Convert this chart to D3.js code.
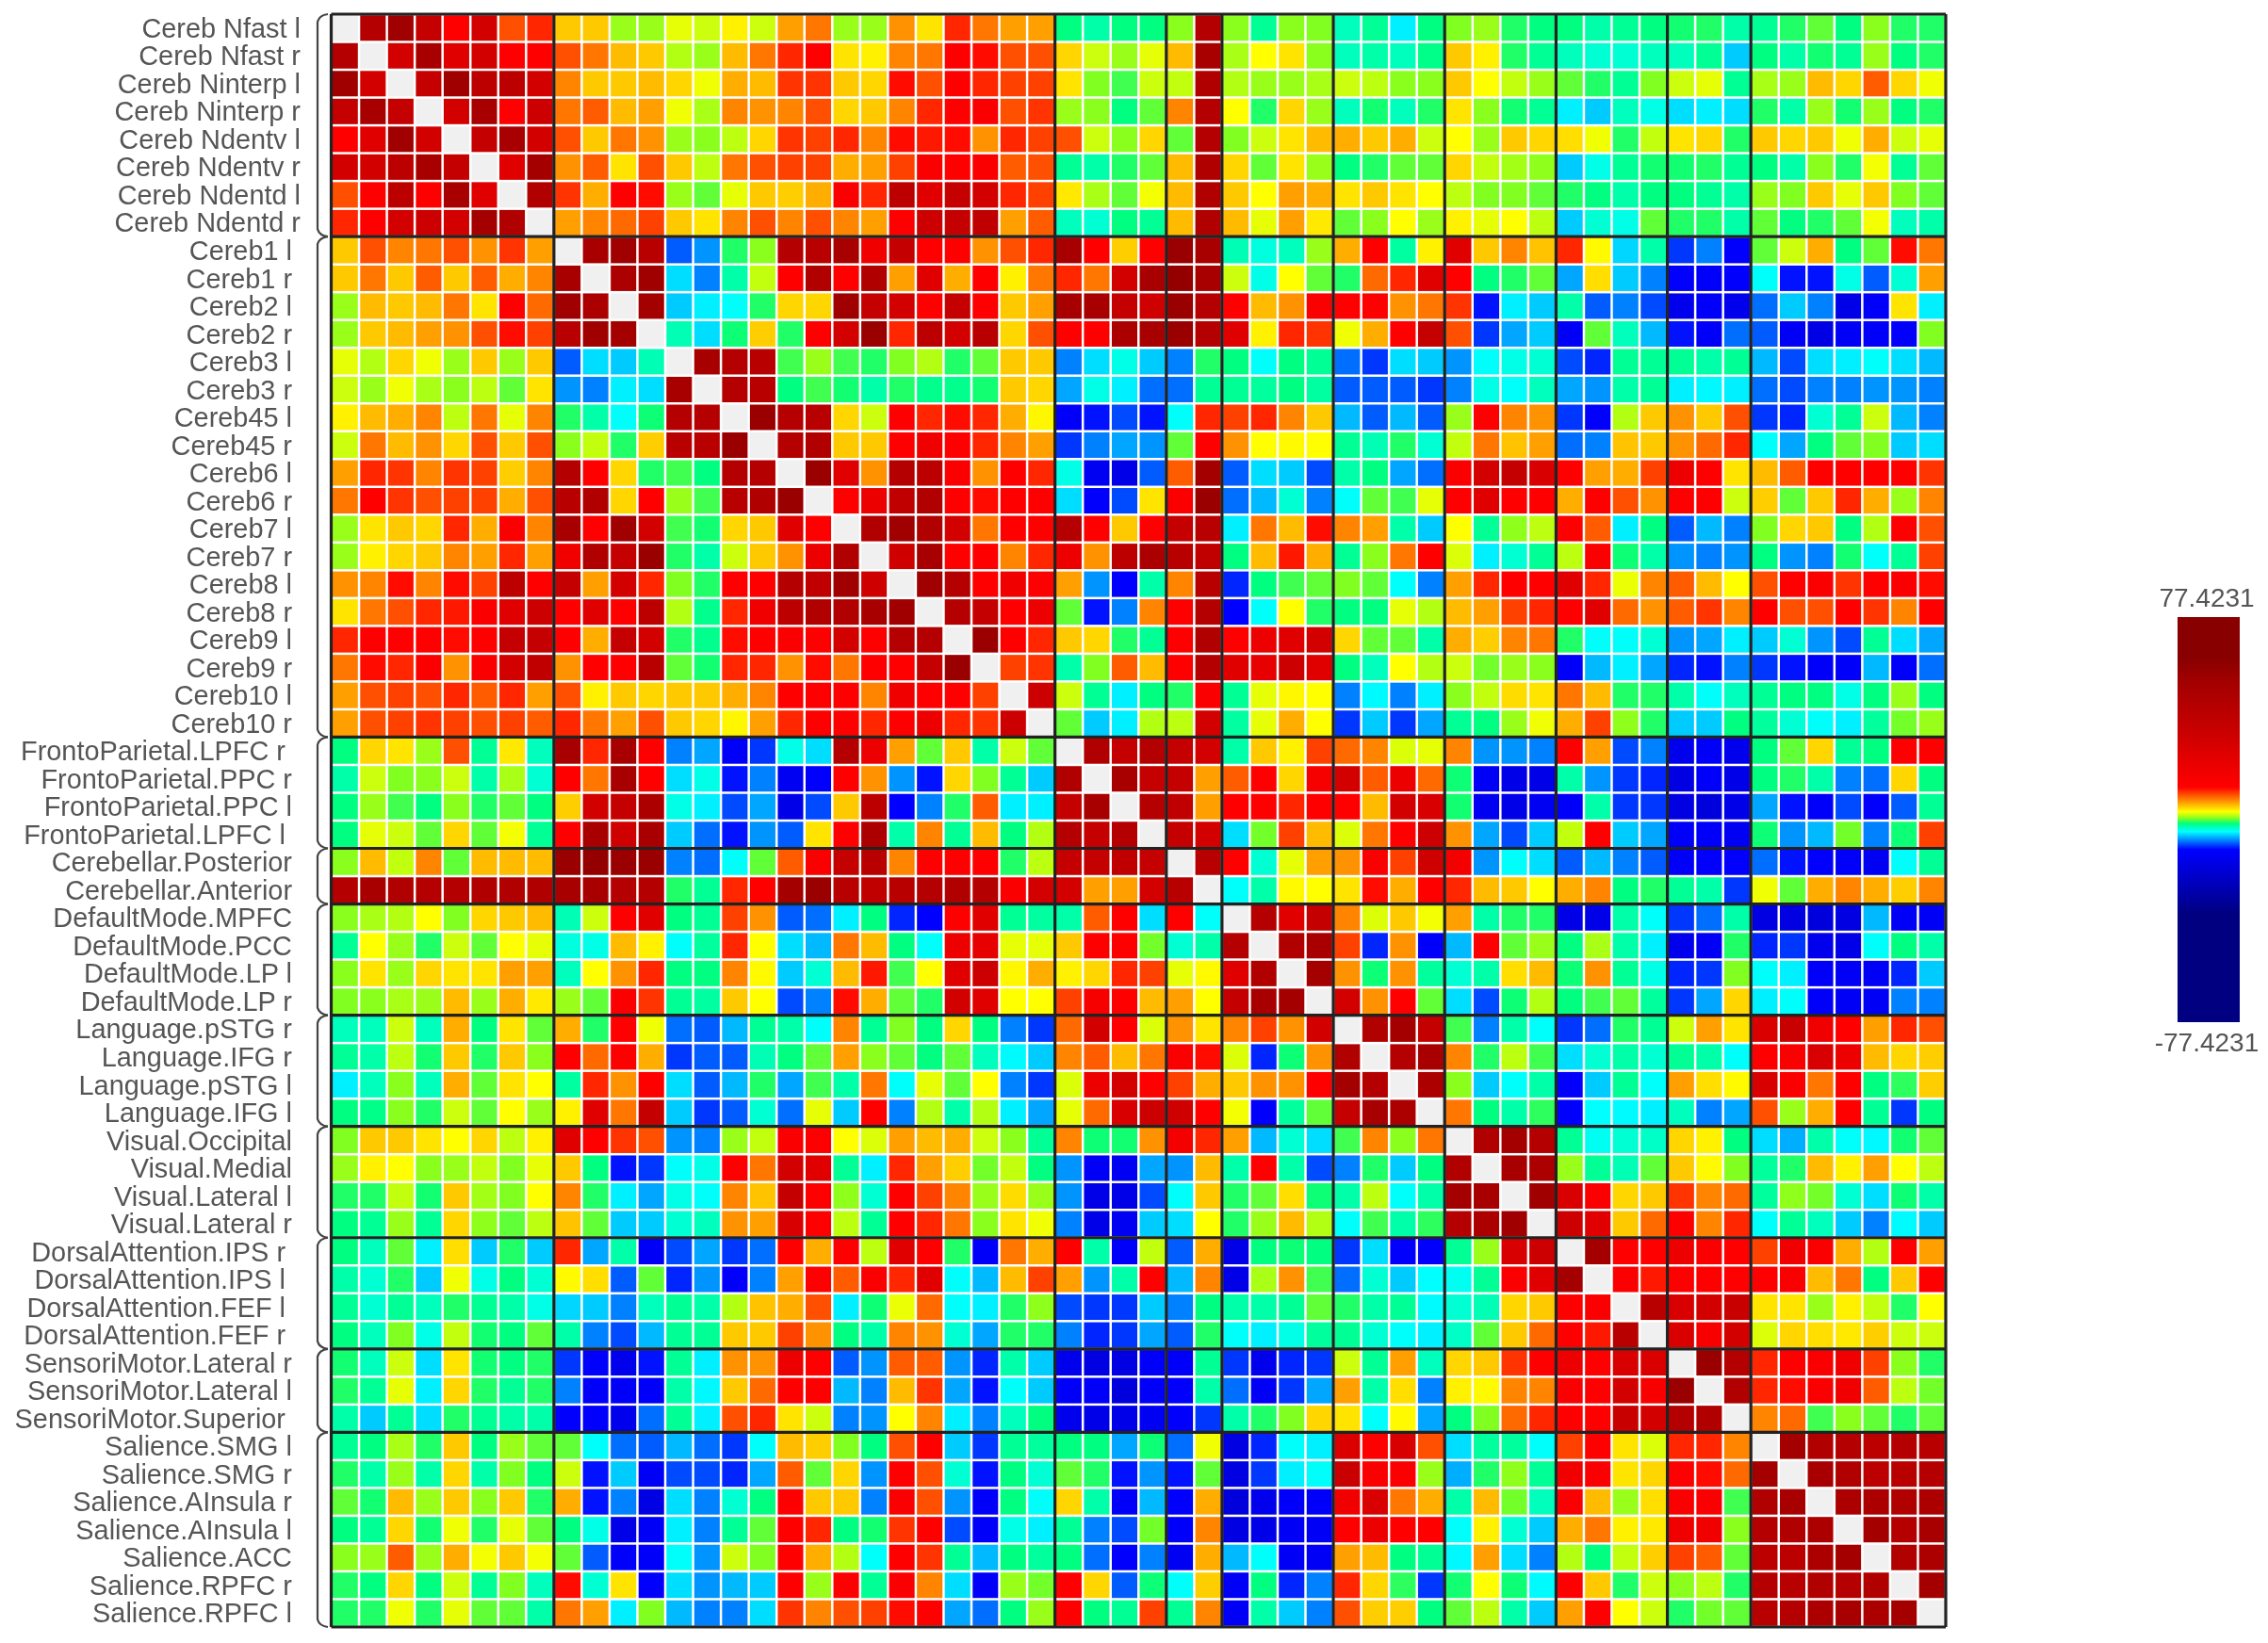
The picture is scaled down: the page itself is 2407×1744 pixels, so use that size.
<!DOCTYPE html>
<html><head><meta charset="utf-8">
<script src="https://cdn.jsdelivr.net/npm/d3@7"></script>
<style>html,body{margin:0;background:#fff}svg{display:block;filter:blur(0.7px)}text{font-family:"Liberation Sans",Arial,sans-serif;fill:#555}</style>
</head><body><svg id="c" width="2407" height="1744"></svg>
<script>
const labels=["Cereb Nfast l","Cereb Nfast r","Cereb Ninterp l","Cereb Ninterp r","Cereb Ndentv l","Cereb Ndentv r","Cereb Ndentd l","Cereb Ndentd r","Cereb1 l","Cereb1 r","Cereb2 l","Cereb2 r","Cereb3 l","Cereb3 r","Cereb45 l","Cereb45 r","Cereb6 l","Cereb6 r","Cereb7 l","Cereb7 r","Cereb8 l","Cereb8 r","Cereb9 l","Cereb9 r","Cereb10 l","Cereb10 r","FrontoParietal.LPFC r","FrontoParietal.PPC r","FrontoParietal.PPC l","FrontoParietal.LPFC l","Cerebellar.Posterior","Cerebellar.Anterior","DefaultMode.MPFC","DefaultMode.PCC","DefaultMode.LP l","DefaultMode.LP r","Language.pSTG r","Language.IFG r","Language.pSTG l","Language.IFG l","Visual.Occipital","Visual.Medial","Visual.Lateral l","Visual.Lateral r","DorsalAttention.IPS r","DorsalAttention.IPS l","DorsalAttention.FEF l","DorsalAttention.FEF r","SensoriMotor.Lateral r","SensoriMotor.Lateral l","SensoriMotor.Superior","Salience.SMG l","Salience.SMG r","Salience.AInsula r","Salience.AInsula l","Salience.ACC","Salience.RPFC r","Salience.RPFC l"];
const groupSizes=[8,18,4,2,4,4,4,4,3,7];
const valueMax=77.4231;
// upper triangle of the symmetric matrix: each row lists columns after the diagonal
const r00=[44,54,36,12.5,30,9.5,11,5,5,1,1,2.5,2,3.5,2,6.5,8,1,1,7,4,11,8,6.5,6.5,-1.5,-2.5,-1.5,-1.5,0.7,44,0.7,-2,0.7,0.5,-3,-2,-5,-1.5,0.5,1,-1,-1.5,-1.5,-2.5,-2,-1.5,-1.2,-1,-2.5,-2,-1,0,-1.5,0.7,-1,-1];
const r01=[30,50,25,30,12.5,13,9.5,8,5.5,5,1.5,1,5.5,8,11,12.5,4,3.5,7.5,8,12.5,12,9.5,9.5,4.5,2,1,2.5,5.5,50,1.3,3,4,0.7,-3,-2.5,-3,-1.7,5,3.5,-1,-2,-3,-3.5,-3.5,-3,-3,-2,-6,-1.5,-2.5,-1.2,-2,1,-1.5,-1];
const r02=[36,54,40,40,30,7.5,5,5,5.5,4.5,2.7,6,5.5,10.5,10.5,5,4.5,12,9.5,12.5,11,10,10,4,0.5,-0.5,2,1.8,46,1.5,1,1,1.3,2,1.7,0.7,0.7,5,3,1.8,1,0,-1,-2,0.5,2,2.5,-2,1.3,1,5.5,4.5,9,4.5,2.7];
const r03=[30,50,12.5,33,8,9,5.5,6.5,2.7,1.3,7.5,7,7.5,9.5,4.5,5,7.5,11,13,14,9.5,10.5,1,0.7,-1.5,0,7.5,44,3,-1,4.5,1,-3,-1.2,-3,-1,4,0.7,-1.2,-2,-5,-6,-3,-4,-5.5,-5,-5.5,-1,-2.5,1,-1.2,1,-1.5,-1];
const r04=[36,50,30,9.5,5,8,7,1,0.7,1.7,4.5,10.5,10,11,7.5,12,11.5,12,7,11,10,9.5,2,0.7,4.5,0,44,0.5,2,4,5.5,6,5,6,2,3,1,5,4.5,4.2,2.7,-1,1.8,4,4.5,-1,5,4.5,5,2.7,6,2,2.5];
const r05=[25,52,7,9,4,9.5,5,1.7,8,9.5,10,10,6,6.5,10,14,12.5,14,9,9.5,-2,-2.5,-1,0,5.5,46,4.5,0,4,1,-1.5,-1,0,0,4.5,1.8,1.2,0.8,-6,-4,-2,-1.2,-1.2,-1,-2,-1.5,-2.5,0.7,-1,2.8,-2,0];
const r06=[46,10.5,6,12.5,12,1,0,2.5,5,4.8,6,14,11,40,25,36,30,11,10,3.8,1.3,0,2.8,5.5,46,5,3,6.5,6,4,5,4,3,1.7,0.5,0.5,0,-1,-1.5,-2.5,-1.5,-1.5,-2,-2.5,1,0.5,5,2.5,5,0.5,0];
const r07=[6.5,7.5,8.5,10,5,4,7.5,9.5,7.5,9.5,7.5,6.5,13,33,36,38,6.5,9,-3,-3.5,-1.5,-2,5.5,46,5.5,2.5,6.5,3.8,0,0.7,3,1,3.5,2.5,3,1.7,-6,-3.5,-4,0,-1,-1,-2.5,0,-1.5,-1,0,2.8,-3,-2.5];
const r08=[50,54,42,-9,-7.5,-1,0.7,44,42,50,18,36,12.5,12.5,7,9.5,11,50,13,4.8,12.5,56,50,-2.8,-3.8,-3,1,6,12.5,-2.3,3.5,25,5,7.5,5.2,11,3.2,-5.7,-2.5,-10,-8,-12,0,2,6,-1.5,0,12,8];
const r09=[48,54,-5.5,-8,-2.5,1.8,12.5,46,12.5,46,6.5,25,6,12.5,3.5,8,11,8,30,50,58,50,2,-4,3,0,-1,8.5,11,25,12.5,-1.5,-1,0,-7,4.2,-6,-8,-12,-12.5,-12,-4.5,-11,-11,-4,-9,-3.5,6.5];
const r10=[52,-6,-5,-4.5,-1,4.5,4.5,54,36,30,12.5,36,13,5,6.5,50,50,36,32,56,44,12.5,5.5,7,14,12.5,12.5,7,8,10.5,-11,-5,-6,-2.5,-9,-8,-9.5,-15,-12.5,-15,-8.5,-6,-8,-16,-12.5,4,-5];
const r11=[-2.8,-5.5,-1.3,4.8,-1,12.5,30,56,11,40,30,42,4.5,9.5,13,12.5,48,50,56,44,25,3.5,11,10.5,2.7,6,12.5,36,9.5,-10,-7,-6,-13,0,-3,-6.5,-11,-12.5,-8.5,-9,-13,-16.5,-13,-12.5,-12,0.5];
const r12=[50,44,42,-0.5,1,-0.5,-1,0.5,1.5,-1,0,5,5,-8,-5.5,-4,-6,-8,-1,-1.5,-4.5,-1.5,-2,-8.5,-10,-5.5,-6,-7.5,-4.5,-4,-3.5,-9.5,-10.5,-2,-2,-2,-2.5,-2,-6.5,-9.5,-5.5,-5,-4.5,-5.5,-6.5];
const r13=[44,42,-1.5,-0.5,-1.2,-2.5,-1,-1.8,-1.8,-1.2,5,4.5,-7,-4,-5,-8.5,-8.5,-2,-2,-2.2,-1.5,-2.3,-9,-9,-9,-10,-8,-4,-4.5,-3,-7,-7.5,-2.5,-2,-5,-4.8,-5,-8.5,-9.5,-8,-8,-7.5,-7.5,-8];
const r14=[56,44,42,4.5,2,13,11,12,11,6,3.3,-12.5,-11,-9.5,-11,-4.5,11,10,11,7.5,5,-6.5,-9,-6.5,-9,1,13,7.5,7,-10,-12,1.5,5,7,5,9.5,-10,-10.5,-3.5,-2,2,-6.5,-8];
const r15=[44,46,5,5,13,18,12.5,11,7.5,6.5,-10,-8,-7,-7.5,0,12.5,7,3,3.2,3,-2,-2.8,-1,-3.5,1.8,8,5.2,6.5,-8.5,-8,5.2,5,7,8.5,11,-4.5,-7,-1.5,0,0.5,-6,-5.5];
const r16=[56,25,7,44,40,14,7,13,11,-4,-14,-16,-9,9,52,-9,-5.5,-6,-9.5,-2.5,-1.5,-7,-8.5,14,30,36,28,13,6.5,6,10,20,13,4,5.5,9,13,13,13,13,10.5];
const r17=[13,20,38,46,13,12,13,13,-5.5,-12,-9.5,4,14,56,-8.5,-6.5,-3.5,-8,-4.5,0,-0.5,2.5,13,25,13,12.5,6,12.5,9.5,7,13,12.5,2,4.8,0,5,11,6,1,7.5];
const r18=[46,54,46,30,8,13,13,44,13,5,12.5,36,42,-5,8,5.5,12,7.5,6.5,-2.5,-6,3,-2,0.8,1.7,12.5,9,-5,-1.5,-9,-6.5,-8,0.5,4.5,5,-1.5,1.5,13,9.5];
const r19=[32,50,12.5,13,7.5,11,20,7,40,48,42,38,-1.5,5.5,11.5,6,-2,0.7,8,13,2.3,-5,-3.5,-2,1.7,14,-1.3,-2.5,-7.5,-8,-7.5,-1.5,-7.5,-8,-1.2,-4.5,-2,10];
const r20=[54,44,12.5,18,13,6.5,-7.5,-11.5,-2.5,7.5,42,-10.5,-1.5,-0.5,0,0.5,0,-4.5,-8,6.5,11,13,13,25,11,2.6,7.5,9,5.5,3,9.5,13,14,10.5,13,14,12];
const r21=[44,36,12.5,20,0,-11,-8,7.5,13,44,-11.5,-4.5,3,-1,-1.5,-1.5,2.5,1.5,5.5,6.5,10,11,13,25,8.5,7,9,10.5,7.5,12.5,9.5,9.5,13,10.5,7.5,13];
const r22=[56,13,11,5,4.5,-1,-2,12.5,46,12.5,20,25,30,4.5,0,0,-2.5,6,4.8,7.5,8,-1,-4.5,-4.5,-3.5,-7.5,-7,-5,-6,-3.5,-7.5,-9.5,-2,-5.5,-7];
const r23=[10,10.5,-2.5,0.5,9,5.5,13,44,25,22,33,25,-1.5,-3,3,1.5,2,0.3,1,0.7,-12.5,-6.5,-5,-7,-10.5,-11,-8,-10,-11,-12.5,-12.5,-6.5,-12.5,-8.5];
const r24=[33,2,-2,-5,-1.5,-1,14,-2,2.5,3.3,3,-8,-4.7,-8,-5,0.7,1.8,4.3,4,8,5.5,-1,-1,-2.5,-4.5,-3,-2,-1.5,-1.5,-4,-1.5,1,-1.5];
const r25=[0,-6,-5,1.5,1.7,30,-2.3,2.5,6,3,-10,-6,-10,-7,-2,-1.5,1,2.7,6,10,0.8,-1,-6,-6,-1.5,-2.2,-3.5,-4.5,-5,-2.2,0.3,1];
const r26=[46,36,44,36,30,-2.5,5,3.5,10,8.5,7.5,2.3,2.5,7.5,-7.5,-7.5,-8,13,6.5,-9.5,-8,-15,-12.5,-15,-1.5,0,4.5,-2,-1.5,13,13];
const r27=[50,36,36,6.5,9,13,4.5,16,30,9,20,8.5,-1.3,-13,-16,-16,-2.5,-7.5,-10,-10.5,-17,-12.5,-16,-1.5,-1,-2.5,-8,-8.5,4.5,-1.5];
const r28=[44,38,6.5,13,13,11,13,12.5,5.5,30,28,-1.2,-14,-16,-14,-12.5,-2.5,-10,-10,-17,-18,-16,-7,-11,-12.5,-9.5,-12,-9,-2];
const r29=[36,30,-5.5,0.3,10,5.5,2.3,8,13,33,7,-7,-9.5,-6,1.8,13,-6,-7,-12.5,-12.5,-14,-1.3,-7.5,-6.5,0.3,-8,-1.3,10];
const r30=[42,13,-3.5,2.5,6.5,7,14,10,32,17,-7.5,-4.5,-5.5,-9,-6.5,-8,-9,-12.5,-12,-12,-8.5,-11,-12,-12.5,-14,-4.5,-2];
const r31=[-4.5,-2.5,3.2,3,4,12,6,13,11,5.5,5,3,6,7.5,-1.5,-1,-2,-2.5,-10,2.7,0,6,7.5,6,4.8,7.5];
const r32=[44,25,36,7.5,2.3,5,2.8,6.5,-2.5,-1,-1,-16,-16,-2.5,-4.5,-10,-8.5,-2.5,-17,-17,-18,-17,-6.5,-13,-13];
const r33=[46,50,10,-10.5,7,-12.5,-6.5,12.5,0,1,-1.5,1.3,-2.5,-5,-15,-13,-1,-10.5,-10,-15,-16,-4.5,-1.5,-2.5];
const r34=[52,7,-1.3,7,-2.2,-3.5,-2.5,4.2,5.5,-1.3,7,-2,-4,-10.5,-10,0.5,-4.5,-5,-12.5,-13,-13,-10.5,-6];
const r35=[30,7,12.5,0,-5.5,-9.5,-1.3,1.5,-1.5,-0.5,0,-2.2,-10,-7,4.5,-5,-4.5,-12.5,-13,-13,-8,-8];
const r36=[46,52,36,-0.5,-8,-2.5,-4.5,-10,-8.5,-1,-2,2,6.5,4,27,34,18,13,6.5,11,9.5];
const r37=[44,50,7.5,-1,1.7,-0.5,-5.5,-3.5,-2.5,-3.5,-2,-2.5,-4.5,13,14,28,20,5.5,4.5,4.8];
const r38=[48,0.7,-6,-4.5,-2.5,-12,-6,-2,-4.5,6.5,4.2,3.2,28,14,8,13,-1.5,-0.8,4.8];
const r39=[8,-1.5,-2.5,-0.8,-12,-4.6,-4.7,-5,-3,-8,-7,9.5,1,6,13,-2,-10,-1.5];
const r40=[46,52,44,-2,-4.3,-3.5,-3.2,4.5,3.5,-1.5,-5.5,-6.8,-2.5,-4.5,-4.8,-1.2,0];
const r41=[50,48,1,-2,-2.8,0,5,3.2,0.5,-2.2,-1,5.5,3.5,6.5,3,1.7];
const r42=[54,28,14,4.5,5,10.5,7.5,8.5,-2.2,0.8,0.3,-3.5,-5.5,-1.3,-2.5];
const r43=[33,25,5,8.5,12.5,7.5,11,-4.5,-2,-3,-6,-8,-4.7,-6];
const r44=[52,13,13,20,14,13,10,18,14,6,1.5,13,6.5];
const r45=[14,11.5,13,13,13,12.5,14,5.5,8,-1.5,5,12.5];
const r46=[42,28,30,34,4,4,1,3.5,1.8,-1,3];
const r47=[27,15,30,2.3,4.5,4.2,3.8,4.8,2,2];
const r48=[56,44,11,13,14,18,10,0.7,-1];
const r49=[46,11,12,14,18,9,1.7,0.3];
const r50=[7.5,8.5,-0.5,0.7,0,-1,0];
const r51=[52,46,44,40,44,42];
const r52=[50,46,40,42,44];
const r53=[48,48,46,48];
const r54=[52,44,50];
const r55=[46,48];
const r56=[52];
const upper=[r00,r01,r02,r03,r04,r05,r06,r07,r08,r09,r10,r11,r12,r13,r14,r15,r16,r17,r18,r19,r20,r21,r22,r23,r24,r25,r26,r27,r28,r29,r30,r31,r32,r33,r34,r35,r36,r37,r38,r39,r40,r41,r42,r43,r44,r45,r46,r47,r48,r49,r50,r51,r52,r53,r54,r55,r56];

const N=labels.length;
upper.forEach((r,i)=>{if(r.length!==N-1-i)throw new Error("row "+i+" has "+r.length+" expected "+(N-1-i));});
const cells=[];
upper.forEach((r,i)=>r.forEach((v,k)=>{const j=i+1+k;cells.push({i,j,v},{i:j,j:i,v});}));

const colorAnchors=[-valueMax,-36,-11.5,-4.6,-1.5,0.5,3,12.4,36,54,62,valueMax];
const colorStops=["#000080","#000080","#0000ff","#00ffff","#00ff80","#80ff20","#ffff00","#ff0000","#c40000","#a00000","#880000","#880000"];
const color=d3.scaleLinear().domain(colorAnchors).range(colorStops).interpolate(d3.interpolateRgb);

const svg=d3.select("#c");
const x=d3.scaleBand().domain(d3.range(N)).range([351.5,2065]).paddingInner(0.085).paddingOuter(0.0425);
const y=d3.scaleBand().domain(d3.range(N)).range([15,1727]).paddingInner(0.085).paddingOuter(0.0425);

svg.append("rect").attr("x",351.5).attr("y",15).attr("width",1713.5).attr("height",1712).attr("fill","#fff");
svg.append("g").selectAll("rect").data(cells).join("rect")
 .attr("x",d=>x(d.j)).attr("y",d=>y(d.i)).attr("width",x.bandwidth()).attr("height",y.bandwidth()).attr("fill",d=>color(d.v));
svg.append("g").selectAll("rect").data(d3.range(N)).join("rect")
 .attr("x",d=>x(d)).attr("y",d=>y(d)).attr("width",x.bandwidth()).attr("height",y.bandwidth()).attr("fill","#f0f0f0");

// group boundaries
const edges=[0];groupSizes.forEach(s=>edges.push(edges[edges.length-1]+s));
const px=k=>351.5+k*x.step(), py=k=>15+k*y.step();
const lines=svg.append("g").attr("stroke","#222").attr("stroke-width",3.2).attr("fill","none");
edges.forEach(e=>{
 lines.append("line").attr("x1",px(e)).attr("x2",px(e)).attr("y1",15).attr("y2",1727);
 lines.append("line").attr("x1",351.5).attr("x2",2065).attr("y1",py(e)).attr("y2",py(e));
});

// braces left of each group
const braces=svg.append("g").attr("fill","none").attr("stroke","#444").attr("stroke-width",2.2);
d3.pairs(edges).forEach(([a,b])=>{
 const t=py(a),u=py(b);
 braces.append("path").attr("d",`M348 ${t} Q339 ${t+1} 337 ${t+8} L337 ${u-8} Q339 ${u-1} 348 ${u}`);
});

// row labels: the three right-edge tiers of the reference
const endTier=labels.map((l,i)=>{
 if(i<8)return 319;
 if(/LPFC|DorsalAttention|Superior/.test(l))return 303;
 return 310;
});
svg.append("g").attr("font-size",28.9).attr("text-anchor","end").selectAll("text").data(labels).join("text")
 .attr("x",(d,i)=>endTier[i]).attr("y",(d,i)=>y(i)+y.bandwidth()/2).attr("dy","0.35em").text(d=>d);

// colour bar
const defs=svg.append("defs");
const grad=defs.append("linearGradient").attr("id","bar").attr("x1",0).attr("x2",0).attr("y1",1).attr("y2",0);
const barScale=d3.scaleLinear().domain([-valueMax,valueMax]).range([0,100]);
colorAnchors.forEach((v,i)=>grad.append("stop").attr("offset",barScale(v)+"%").attr("stop-color",colorStops[i]));
svg.append("rect").attr("x",2311).attr("y",655).attr("width",66).attr("height",430).attr("fill","url(#bar)");
svg.append("text").attr("x",2342).attr("y",644).attr("text-anchor","middle").attr("font-size",28).text(valueMax.toFixed(4));
svg.append("text").attr("x",2342).attr("y",1116).attr("text-anchor","middle").attr("font-size",28).text((-valueMax).toFixed(4));
</script></body></html>
